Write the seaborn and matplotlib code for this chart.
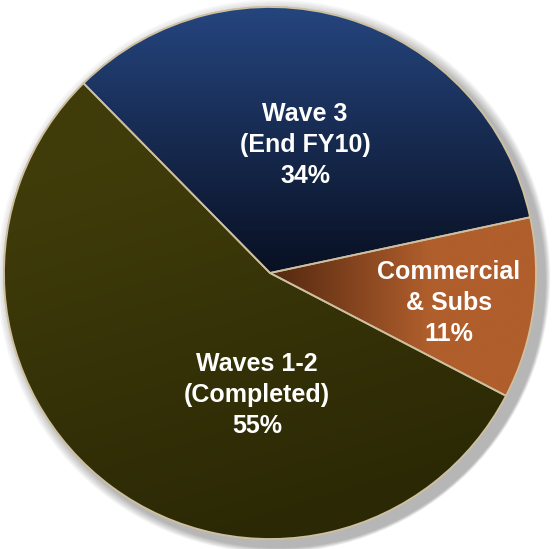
import matplotlib
matplotlib.use("Agg")
import matplotlib.pyplot as plt
from matplotlib.colors import LinearSegmentedColormap
from matplotlib.patches import Circle, Wedge
import numpy as np
import seaborn as sns

# data
labels = ["Wave 3\n(End FY10)", "Commercial\n& Subs", "Waves 1-2\n(Completed)"]
shares = [34, 11, 55]
pct_text = ["34%", "11%", "55%"]

# colours: (light end, dark end) of each slice's shading
base_colors = ["#182b58", "#8c4822", "#333008"]
grad_colors = [("#25457e", "#070d1d"), ("#b05e2c", "#5a2c12"), ("#403c0a", "#282605")]
edge_color = "#cdbf9f"

sns.set_theme(style="white")
plt.rcParams["font.family"] = ["Liberation Sans", "DejaVu Sans"]

fig = plt.figure(figsize=(5.52, 5.49), dpi=100)
ax = fig.add_axes([0, 0, 1, 1])

# soft shadow to the lower right
for i in range(10):
    ax.add_patch(Circle((0.014 + 0.002 * i, -0.012 - 0.002 * i), 1.0 + 0.004 * (10 - i),
                        color="black", alpha=0.03, lw=0, zorder=0))

wedges, _ = ax.pie(shares, colors=base_colors, startangle=134.5, counterclock=False,
                   radius=1.0, center=(0, 0), frame=True,
                   wedgeprops=dict(edgecolor=edge_color, linewidth=1.3))
ax.set_xlim(-270 / 266, 282 / 266)
ax.set_ylim(-276 / 266, 273 / 266)
ax.set_aspect("equal")
ax.axis("off")

# shading inside each slice
yy, xx = np.mgrid[-1:1:300j, -1:1:300j]
for k, w in enumerate(wedges):
    cmap = LinearSegmentedColormap.from_list("g%d" % k, list(grad_colors[k]))
    if k == 0:
        field = 1 - (yy + 0.05) / 1.05  # top light, centre dark
    elif k == 1:
        field = 1 - np.clip((xx - 0.05) / 0.55, 0, 1)  # rim light, centre dark
    else:
        field = np.clip((0.6 - yy + 0.3 * xx) / 1.8, 0, 1)
    im = ax.imshow(np.clip(field, 0, 1), cmap=cmap, extent=(-1, 1, 1, -1),
                   origin="upper", vmin=0, vmax=1, zorder=1.5, interpolation="bilinear")
    im.set_clip_path(w)
    w.set_zorder(1)

# redraw edges on top
for w in wedges:
    ax.add_patch(Wedge(w.center, w.r, w.theta1, w.theta2, fill=False,
                       edgecolor=edge_color, linewidth=1.3, zorder=2))

label_pos = [(0.132, 0.481), (0.673, -0.112), (-0.049, -0.459)]
for lab, pct, (x, y) in zip(labels, pct_text, label_pos):
    ax.text(x, y, lab + "\n" + pct, ha="center", va="center", color="white",
            fontsize=18, fontweight="bold", linespacing=1.38, zorder=3)

fig.savefig("out.png", dpi=100, facecolor="white")
